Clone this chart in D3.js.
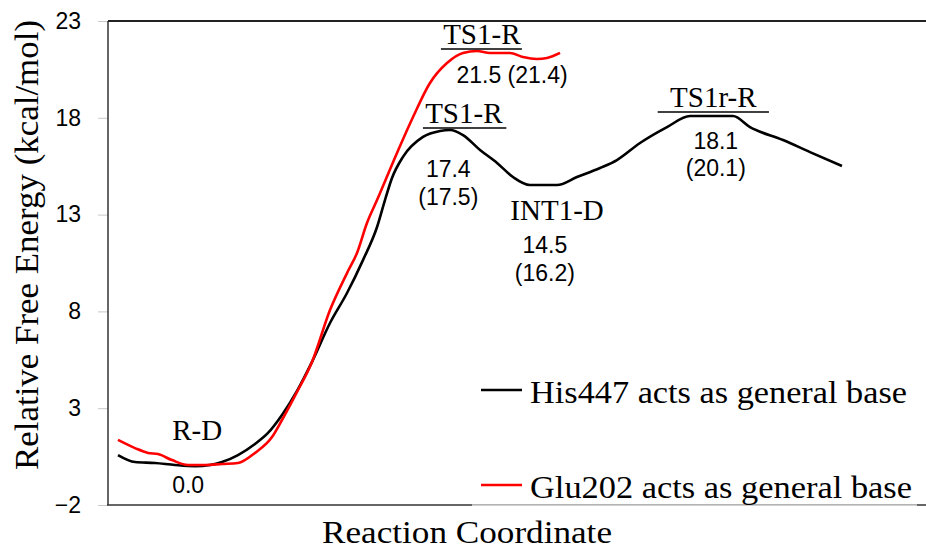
<!DOCTYPE html>
<html>
<head>
<meta charset="utf-8">
<script src="https://cdn.jsdelivr.net/npm/d3@7"></script>
<style>
  html, body { margin: 0; padding: 0; background: #fff; overflow: hidden; }
  svg { display: block; }
</style>
</head>
<body>
<svg id="chart" width="926" height="550"></svg>
<script>
// ---- Data ----
const yTicks = [-2, 3, 8, 13, 18, 23];

// His447 acts as general base (black)
const hisCoord = [1.22, 3.30, 5.75, 8.19, 10.64, 12.47, 13.94, 15.89, 17.97, 19.56, 21.27, 23.11, 24.94, 27.14, 29.22, 31.17, 32.89, 33.86, 34.72, 36.06, 38.51, 40.59, 41.81, 43.40, 45.48, 47.56, 49.51, 51.59, 54.89, 57.33, 60.15, 62.22, 65.04, 68.34, 71.15, 76.41, 78.48, 82.52, 85.82, 89.73];
const hisEnergy = [0.58, 0.22, 0.17, 0.07, 0.01, 0.07, 0.22, 0.58, 1.15, 1.72, 2.65, 3.89, 5.39, 7.40, 8.95, 10.65, 12.36, 13.75, 14.89, 15.98, 17.01, 17.32, 17.37, 17.11, 16.34, 15.67, 14.94, 14.53, 14.53, 14.94, 15.41, 15.82, 16.70, 17.52, 18.09, 18.09, 17.52, 16.85, 16.23, 15.51];

// Glu202 acts as general base (red)
const gluCoord = [1.22, 3.30, 4.89, 6.11, 7.82, 9.78, 11.86, 13.94, 15.89, 17.97, 20.05, 21.27, 23.11, 24.94, 27.14, 29.22, 30.44, 31.66, 32.89, 35.33, 37.29, 39.36, 41.44, 43.40, 45.11, 46.70, 49.14, 50.73, 52.44, 53.67, 55.26];
const gluEnergy = [1.36, 0.94, 0.69, 0.63, 0.32, 0.07, 0.07, 0.12, 0.17, 0.69, 1.51, 2.39, 3.84, 5.39, 8.07, 9.98, 11.02, 12.57, 13.75, 16.18, 18.04, 19.80, 20.83, 21.35, 21.45, 21.35, 21.35, 21.14, 21.04, 21.09, 21.35];

const seriesNames = ["His447 acts as general base", "Glu202 acts as general base"];
const seriesColors = ["#000000", "#ff0000"];

// State labels
const stateNames = ["R-D", "TS1-R", "TS1-R", "INT1-D", "TS1r-R"];
const stateValues = ["0.0", "21.5 (21.4)", "17.4\n(17.5)", "14.5\n(16.2)", "18.1\n(20.1)"];

// ---- Layout ----
const svg = d3.select("#chart");
const mLeft = 108, mRight = 926, mTop = 21, mBottom = 505;

const x = d3.scaleLinear().domain([0, 100]).range([mLeft, mRight]);
const y = d3.scaleLinear().domain([-2, 23]).range([mBottom, mTop]);

const serif = "'Liberation Serif', 'Times New Roman', serif";
const sans = "'Liberation Sans', Arial, sans-serif";

// Y axis ticks & labels
const yAxis = d3.axisLeft(y).tickValues(yTicks).tickSize(10).tickPadding(17).tickFormat(d3.format("d"));
const gy = svg.append("g").attr("transform", `translate(${mLeft},0)`).call(yAxis);
gy.select(".domain").remove();
gy.selectAll(".tick line").attr("stroke", "#c8c8c8").attr("stroke-width", 1);
gy.selectAll(".tick text")
  .attr("font-family", sans)
  .attr("font-size", 23)
  .attr("fill", "#000");

// frame lines
svg.append("line").attr("x1", mLeft).attr("x2", mLeft).attr("y1", mTop).attr("y2", mBottom)
  .attr("stroke", "#333").attr("stroke-width", 1.5);
svg.append("line").attr("x1", mLeft).attr("x2", mRight + 20).attr("y1", mTop).attr("y2", mTop)
  .attr("stroke", "#222").attr("stroke-width", 2);
svg.append("line").attr("x1", mLeft - 1).attr("x2", mRight + 20).attr("y1", mBottom).attr("y2", mBottom)
  .attr("stroke", "#333").attr("stroke-width", 1.5);

// Lines
const line = d3.line().curve(d3.curveMonotoneX).x(d => x(d[0])).y(d => y(d[1]));
const hisData = hisCoord.map((c, i) => [c, hisEnergy[i]]);
const gluData = gluCoord.map((c, i) => [c, gluEnergy[i]]);

svg.append("path").datum(hisData).attr("d", line)
  .attr("fill", "none").attr("stroke", seriesColors[0]).attr("stroke-width", 2.6).attr("stroke-linejoin", "round");
svg.append("path").datum(gluData).attr("d", line)
  .attr("fill", "none").attr("stroke", seriesColors[1]).attr("stroke-width", 2.6).attr("stroke-linejoin", "round");

function stateLabel(name, cx, by, barX1, barX2, barY) {
  svg.append("text").attr("x", cx).attr("y", by).attr("text-anchor", "middle")
    .attr("font-family", serif).attr("font-size", 29).attr("fill", "#000").text(name);
  if (barX1 != null) {
    svg.append("line").attr("x1", barX1).attr("x2", barX2).attr("y1", barY).attr("y2", barY)
      .attr("stroke", "#000").attr("stroke-width", 1.3);
  }
}
function valueLabel(txt, cx, by, lh) {
  txt.split("\n").forEach((t, i) => {
    svg.append("text").attr("x", cx).attr("y", by + i * lh).attr("text-anchor", "middle")
      .attr("font-family", sans).attr("font-size", 23).attr("fill", "#000").text(t);
  });
}

stateLabel(stateNames[0], x(10.9), 440);
valueLabel(stateValues[0], x(9.8), 493, 28);
stateLabel(stateNames[1], x(45.7), 44, x(40.7), x(50.6), 49);
valueLabel(stateValues[1], x(49.4), 83, 28);
stateLabel(stateNames[2], x(43.5), 123, x(38.5), x(48.7), 128);
valueLabel(stateValues[2], x(41.6), 177, 28);
stateLabel(stateNames[3], x(54.9), 220);
valueLabel(stateValues[3], x(53.4), 253, 28);
stateLabel(stateNames[4], x(74.0), 107, x(67.2), x(80.8), 112);
valueLabel(stateValues[4], x(74.3), 149, 27);

// Legend
svg.append("rect").attr("x", 472).attr("y", 362).attr("width", 445).attr("height", 142.5).attr("fill", "#fff");
svg.append("line").attr("x1", 472).attr("x2", 917).attr("y1", 505.5).attr("y2", 505.5)
  .attr("stroke", "#d0d0d0").attr("stroke-width", 1);
const legY = [390, 485];
const legTextY = [403, 498];
const legLen = [377, 382];
seriesNames.forEach((n, i) => {
  svg.append("line").attr("x1", 481).attr("x2", 522).attr("y1", legY[i]).attr("y2", legY[i])
    .attr("stroke", seriesColors[i]).attr("stroke-width", 2.6);
  svg.append("text").attr("x", 530).attr("y", legTextY[i])
    .attr("font-family", serif).attr("font-size", 32).attr("fill", "#000")
    .attr("textLength", legLen[i]).attr("lengthAdjust", "spacingAndGlyphs").text(n);
});

// Axis titles
svg.append("text").attr("x", 467).attr("y", 543).attr("text-anchor", "middle")
  .attr("font-family", serif).attr("font-size", 32).attr("fill", "#000")
  .attr("textLength", 290).attr("lengthAdjust", "spacingAndGlyphs").text("Reaction Coordinate");
svg.append("text").attr("transform", "translate(38,245) rotate(-90)").attr("text-anchor", "middle")
  .attr("font-family", serif).attr("font-size", 34).attr("fill", "#000")
  .attr("textLength", 450).attr("lengthAdjust", "spacingAndGlyphs").text("Relative Free Energy (kcal/mol)");
</script>
</body>
</html>
